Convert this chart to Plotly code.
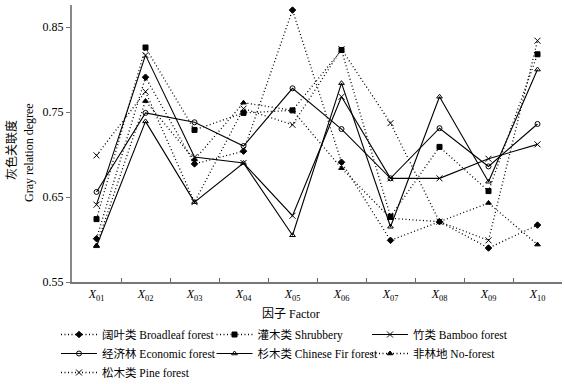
import plotly.graph_objects as go

factors = ["X01", "X02", "X03", "X04", "X05", "X06", "X07", "X08", "X09", "X10"]
tick_labels = ["<i>X</i><sub>%s</sub>" % f[1:] for f in factors]

broadleaf = [0.601, 0.791, 0.689, 0.704, 0.870, 0.691, 0.599, 0.621, 0.590, 0.617]
shrubbery = [0.624, 0.826, 0.729, 0.749, 0.752, 0.823, 0.627, 0.709, 0.657, 0.818]
bamboo    = [0.641, 0.817, 0.697, 0.690, 0.628, 0.768, 0.672, 0.672, 0.695, 0.712]
economic  = [0.656, 0.749, 0.738, 0.710, 0.778, 0.730, 0.672, 0.731, 0.686, 0.736]
fir       = [0.592, 0.739, 0.644, 0.690, 0.605, 0.784, 0.615, 0.768, 0.668, 0.800]
noforest  = [0.593, 0.763, 0.694, 0.761, 0.752, 0.684, 0.625, 0.621, 0.643, 0.594]
pine      = [0.699, 0.774, 0.644, 0.754, 0.735, 0.824, 0.737, 0.621, 0.599, 0.834]

series = [
    ("阔叶类 Broadleaf forest", broadleaf, "diamond", "dot"),
    ("灌木类 Shrubbery", shrubbery, "square", "dot"),
    ("竹类 Bamboo forest", bamboo, "x-thin-open", "solid"),
    ("经济林 Economic forest", economic, "circle-open", "solid"),
    ("杉木类 Chinese Fir forest", fir, "triangle-up-open", "solid"),
    ("非林地 No-forest", noforest, "triangle-up", "dot"),
    ("松木类 Pine forest", pine, "x-thin-open", "dot"),
]

FONT = "Liberation Serif, Times New Roman, Noto Sans CJK SC, serif"

fig = go.Figure()
for name, vals, sym, dash in series:
    fig.add_trace(go.Scatter(
        x=factors, y=vals, name=name, mode="lines+markers",
        line=dict(color="black", width=1.1 if dash == "solid" else 1.3,
                  dash="solid" if dash == "solid" else "1px,2.5px"),
        marker=dict(symbol=sym, size=6 if "x" in sym else 5, color="black",
                    line=dict(color="black", width=1)),
    ))

L, R, T, B = 72, 3, 5, 102
W, H = 565, 384
pw, ph = W - L - R, H - T - B

def px(x):
    return (x - L) / pw

def py(y):
    return (H - B - y) / ph

fig.update_layout(
    width=W, height=H,
    margin=dict(l=L, r=R, t=T, b=B, autoexpand=False),
    paper_bgcolor="white", plot_bgcolor="white",
    font=dict(family=FONT, size=12, color="black"),
    showlegend=True,
    legend=dict(orientation="h", x=px(56), y=py(320), xanchor="left", yanchor="top",
                entrywidth=104.5, entrywidthmode="pixels", itemwidth=36,
                font=dict(size=11.5, family=FONT), tracegroupgap=0,
                bgcolor="rgba(0,0,0,0)"),
    xaxis=dict(type="category", tickvals=factors, ticktext=tick_labels,
               tickson="boundaries", ticks="inside", ticklen=4, tickcolor="#666",
               showline=True, linecolor="#777", linewidth=1.5, showgrid=False,
               zeroline=False, tickfont=dict(size=12, family=FONT),
               range=[-0.5, 9.5]),
    yaxis=dict(range=[0.55, 0.876], tickvals=[0.55, 0.65, 0.75, 0.85],
               ticktext=["0.55", "0.65", "0.75", "0.85"],
               ticks="outside", ticklen=4, tickcolor="#777",
               showline=True, linecolor="#888", linewidth=2, showgrid=False,
               zeroline=False, tickfont=dict(size=12, family=FONT)),
    annotations=[
        dict(text="灰色关联度", x=px(11), y=py(150), xref="paper", yref="paper",
             xanchor="center", yanchor="middle",
             textangle=-90, showarrow=False, font=dict(size=12, family=FONT)),
        dict(text="Gray relation degree", x=px(29), y=py(153), xref="paper", yref="paper",
             xanchor="center", yanchor="middle",
             textangle=-90, showarrow=False, font=dict(size=12, family=FONT)),
        dict(text="因子 Factor", x=px(291), y=py(314), xref="paper", yref="paper",
             xanchor="center", yanchor="middle",
             showarrow=False, font=dict(size=12, family=FONT)),
    ],
)

fig.write_html("out.html", config={"displayModeBar": False},
               post_script="document.body.style.margin='0px';")
